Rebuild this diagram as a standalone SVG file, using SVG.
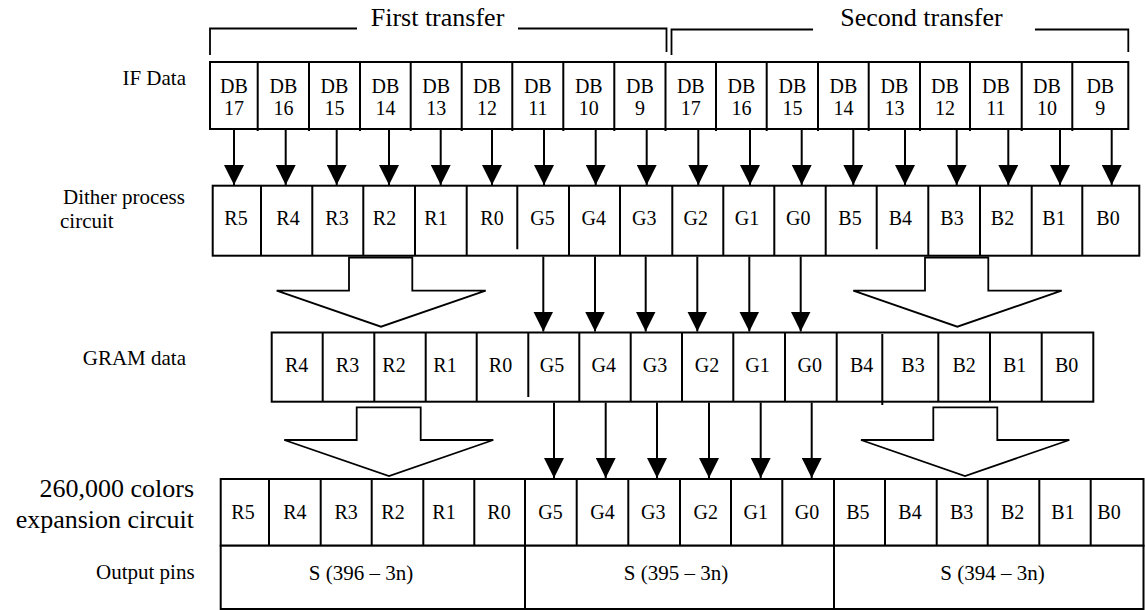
<svg xmlns="http://www.w3.org/2000/svg" width="1145" height="610" viewBox="0 0 1145 610">
<style>
text{font-family:"Liberation Serif","Times New Roman",serif;fill:#000}
.c{font-size:20px;text-anchor:middle}
.lab{font-size:21px}
.big{font-size:26px;text-anchor:end}
.tt{font-size:26px;text-anchor:middle}
.box{fill:#fff;stroke:#000;stroke-width:2}
.dv{stroke:#000;stroke-width:2;fill:none}
.br{stroke:#000;stroke-width:1.8;fill:none}
.ar{stroke:#000;stroke-width:2;fill:none;marker-end:url(#ah)}
.blk{fill:#fff;stroke:#000;stroke-width:1.8;stroke-linejoin:miter}
</style>
<defs>
<marker id="ah" markerUnits="userSpaceOnUse" markerWidth="20" markerHeight="20" refX="20" refY="10" orient="auto" viewBox="0 0 20 20">
<path d="M0,0 L20,10 L0,20 z" fill="#000"/>
</marker>
</defs>

<g id="labels">
<text class="lab" x="186" y="85" text-anchor="end">IF Data</text>
<text class="lab" x="63" y="204">Dither process</text>
<text class="lab" x="60" y="228">circuit</text>
<text class="lab" x="186" y="365" text-anchor="end">GRAM data</text>
<text class="big" x="194" y="497">260,000 colors</text>
<text class="big" x="194" y="528">expansion circuit</text>
<text class="lab" x="96" y="579">Output pins</text>
</g>

<g id="transfer-brackets">
<polyline class="br" points="210,55 210,28.5 357,28.5"/>
<polyline class="br" points="518,28.5 666.5,28.5 666.5,52"/>
<text class="tt" x="437.5" y="26">First transfer</text>
<polyline class="br" points="671.5,55 671.5,29.5 813,29.5"/>
<polyline class="br" points="1035,29.5 1128.3,29.5 1128.3,52"/>
<text class="tt" x="921.5" y="26">Second transfer</text>
</g>

<g id="if-data">
<rect class="box" x="210" y="62" width="918.3" height="67"/>
<path class="dv" d="M257.7,62V131M309,62V131M360,62V131M410.7,62V131M461.7,62V131M512.3,62V131M563.3,62V131M614.3,62V131M665.5,62V131M716,62V131M766.7,62V131M818,62V131M868.7,62V131M920,62V131M970,62V131M1021.7,62V131M1072.3,62V131"/>
<g class="c">
<text x="233.9" y="93">DB</text><text x="233.9" y="114.5">17</text>
<text x="283.4" y="93">DB</text><text x="283.4" y="114.5">16</text>
<text x="334.5" y="93">DB</text><text x="334.5" y="114.5">15</text>
<text x="385.4" y="93">DB</text><text x="385.4" y="114.5">14</text>
<text x="436.2" y="93">DB</text><text x="436.2" y="114.5">13</text>
<text x="487" y="93">DB</text><text x="487" y="114.5">12</text>
<text x="537.8" y="93">DB</text><text x="537.8" y="114.5">11</text>
<text x="588.8" y="93">DB</text><text x="588.8" y="114.5">10</text>
<text x="639.9" y="93">DB</text><text x="639.9" y="114.5">9</text>
<text x="690.8" y="93">DB</text><text x="690.8" y="114.5">17</text>
<text x="741.4" y="93">DB</text><text x="741.4" y="114.5">16</text>
<text x="792.4" y="93">DB</text><text x="792.4" y="114.5">15</text>
<text x="843.4" y="93">DB</text><text x="843.4" y="114.5">14</text>
<text x="894.4" y="93">DB</text><text x="894.4" y="114.5">13</text>
<text x="945" y="93">DB</text><text x="945" y="114.5">12</text>
<text x="995.9" y="93">DB</text><text x="995.9" y="114.5">11</text>
<text x="1047" y="93">DB</text><text x="1047" y="114.5">10</text>
<text x="1100.3" y="93">DB</text><text x="1100.3" y="114.5">9</text>
</g>
</g>

<g id="dither">
<rect class="box" x="212.7" y="185.7" width="926.6" height="70"/>
<path class="dv" d="M261,185.7V255.7M312.3,185.7V255.7M363.3,185.7V255.7M415,185.7V255.7M466.7,185.7V255.7M517.3,185.7V249.3M569,185.7V255.7M620,185.7V255.7M672.3,185.7V255.7M723.3,185.7V255.7M774.3,185.7V255.7M825.7,185.7V255.7M876.7,185.7V249.3M928.3,185.7V255.7M980,185.7V255.7M1031.7,185.7V255.7M1082.3,185.7V255.7"/>
<g class="c">
<text x="236" y="225">R5</text>
<text x="288" y="225">R4</text>
<text x="337" y="225">R3</text>
<text x="384.5" y="225">R2</text>
<text x="436" y="225">R1</text>
<text x="492" y="225">R0</text>
<text x="542.5" y="225">G5</text>
<text x="593.7" y="225">G4</text>
<text x="644.2" y="225">G3</text>
<text x="695.8" y="225">G2</text>
<text x="747" y="225">G1</text>
<text x="798.3" y="225">G0</text>
<text x="850" y="225">B5</text>
<text x="900.3" y="225">B4</text>
<text x="952" y="225">B3</text>
<text x="1002.5" y="225">B2</text>
<text x="1054" y="225">B1</text>
<text x="1108" y="225">B0</text>
</g>
</g>

<g id="gram">
<rect class="box" x="271.7" y="332.5" width="821.6" height="69.2"/>
<path class="dv" d="M322.7,332.5V401.7M374.3,332.5V401.7M425.7,332.5V401.7M476.7,332.5V401.7M528.3,332.5V397M579.3,332.5V401.7M630.7,332.5V401.7M682,332.5V401.7M733.3,332.5V401.7M785,332.5V401.7M836.7,332.5V401.7M882.3,334V405M938.3,332.5V401.7M990,332.5V401.7M1041.7,332.5V401.7"/>
<g class="c">
<text x="296.7" y="371.7">R4</text>
<text x="347.5" y="371.7">R3</text>
<text x="394" y="371.7">R2</text>
<text x="445" y="371.7">R1</text>
<text x="500.5" y="371.7">R0</text>
<text x="552" y="371.7">G5</text>
<text x="603.8" y="371.7">G4</text>
<text x="655" y="371.7">G3</text>
<text x="707" y="371.7">G2</text>
<text x="757.5" y="371.7">G1</text>
<text x="809.7" y="371.7">G0</text>
<text x="861.7" y="371.7">B4</text>
<text x="913" y="371.7">B3</text>
<text x="964.2" y="371.7">B2</text>
<text x="1014.7" y="371.7">B1</text>
<text x="1066.7" y="371.7">B0</text>
</g>
</g>

<g id="expansion">
<rect class="box" x="220.7" y="479" width="922.8" height="66.7"/>
<path class="dv" d="M269,479V548M320.7,479V548M371.7,479V548M423.3,479V548M474.3,479V548M525,479V548M576.7,479V548M628.3,479V548M680,479V548M731,479V548M782.3,479V548M834,479V548M885,479V548M936.7,479V548M987.7,479V548M1039.3,479V548M1090.7,479V548"/>
<g class="c">
<text x="243" y="519">R5</text>
<text x="294.8" y="519">R4</text>
<text x="346.2" y="519">R3</text>
<text x="393" y="519">R2</text>
<text x="444" y="519">R1</text>
<text x="499" y="519">R0</text>
<text x="550.5" y="519">G5</text>
<text x="602.5" y="519">G4</text>
<text x="653.3" y="519">G3</text>
<text x="705.8" y="519">G2</text>
<text x="755.7" y="519">G1</text>
<text x="807" y="519">G0</text>
<text x="857.8" y="519">B5</text>
<text x="910" y="519">B4</text>
<text x="961.7" y="519">B3</text>
<text x="1012.7" y="519">B2</text>
<text x="1063" y="519">B1</text>
<text x="1109" y="519">B0</text>
</g>
</g>

<g id="output-pins">
<rect class="box" x="220.7" y="545.7" width="304.3" height="63.3"/>
<rect class="box" x="525" y="545.7" width="309" height="63.3"/>
<rect class="box" x="834" y="545.7" width="309.5" height="63.3"/>
<text class="c" x="361" y="580" style="font-size:21px">S (396 – 3n)</text>
<text class="c" x="676" y="580" style="font-size:21px">S (395 – 3n)</text>
<text class="c" x="992.5" y="580" style="font-size:21px">S (394 – 3n)</text>
</g>

<g id="connectors">
<line class="ar" x1="234" y1="129" x2="234" y2="185"/>
<line class="ar" x1="285.7" y1="129" x2="285.7" y2="185"/>
<line class="ar" x1="336.7" y1="129" x2="336.7" y2="185"/>
<line class="ar" x1="389" y1="129" x2="389" y2="185"/>
<line class="ar" x1="440.7" y1="129" x2="440.7" y2="185"/>
<line class="ar" x1="492" y1="129" x2="492" y2="185"/>
<line class="ar" x1="544" y1="129" x2="544" y2="185"/>
<line class="ar" x1="595.7" y1="129" x2="595.7" y2="185"/>
<line class="ar" x1="646.7" y1="129" x2="646.7" y2="185"/>
<line class="ar" x1="698.3" y1="129" x2="698.3" y2="185"/>
<line class="ar" x1="750" y1="129" x2="750" y2="185"/>
<line class="ar" x1="801.7" y1="129" x2="801.7" y2="185"/>
<line class="ar" x1="853.3" y1="129" x2="853.3" y2="185"/>
<line class="ar" x1="905" y1="129" x2="905" y2="185"/>
<line class="ar" x1="956.7" y1="129" x2="956.7" y2="185"/>
<line class="ar" x1="1008.3" y1="129" x2="1008.3" y2="185"/>
<line class="ar" x1="1060" y1="129" x2="1060" y2="185"/>
<line class="ar" x1="1111.7" y1="129" x2="1111.7" y2="185"/>

<line class="ar" x1="543.3" y1="256.5" x2="543.3" y2="331.5"/>
<line class="ar" x1="595" y1="256.5" x2="595" y2="331.5"/>
<line class="ar" x1="645.7" y1="256.5" x2="645.7" y2="331.5"/>
<line class="ar" x1="697.3" y1="256.5" x2="697.3" y2="331.5"/>
<line class="ar" x1="749.3" y1="256.5" x2="749.3" y2="331.5"/>
<line class="ar" x1="800.7" y1="256.5" x2="800.7" y2="331.5"/>

<line class="ar" x1="554" y1="402.5" x2="554" y2="478"/>
<line class="ar" x1="605.7" y1="402.5" x2="605.7" y2="478"/>
<line class="ar" x1="657" y1="402.5" x2="657" y2="478"/>
<line class="ar" x1="709" y1="402.5" x2="709" y2="478"/>
<line class="ar" x1="760.7" y1="402.5" x2="760.7" y2="478"/>
<line class="ar" x1="811.7" y1="402.5" x2="811.7" y2="478"/>

<polygon class="blk" points="349,257.5 412.3,257.5 412.3,290.7 485.7,290.7 381,326.7 276.7,290.7 349,290.7"/>
<polygon class="blk" points="925,257.5 988.3,257.5 988.3,290.7 1061.7,290.7 957.3,326.7 853.3,290.7 925,290.7"/>
<polygon class="blk" points="356.7,407.3 420.7,407.3 420.7,440 493.3,440 389,476 284.3,440 356.7,440"/>
<polygon class="blk" points="933.3,407.3 997.3,407.3 997.3,440 1069.3,440 965,476 861,440 933.3,440"/>
</g>
</svg>
